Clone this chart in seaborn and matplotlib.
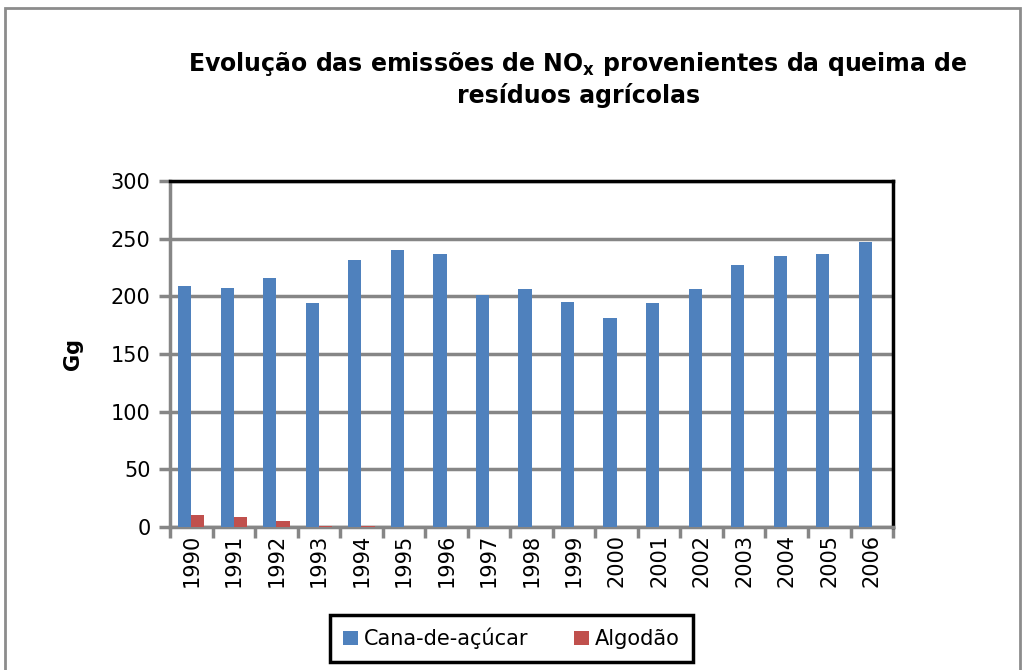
import pandas as pd
import matplotlib
matplotlib.use("Agg")
import matplotlib.pyplot as plt
import seaborn as sns
from matplotlib.patches import Rectangle

anos = [str(a) for a in range(1990, 2007)]
cana = [209, 207.5, 216, 194, 231.5, 240.5, 237, 201, 206, 195, 181.5, 194, 206, 227, 235, 237, 247.5]
algodao = [10, 8.5, 5, 1, 1, 0.3, 0.2, 0.1, 0.1, 0.1, 0, 0, 0, 0, 0, 0, 0]
series = ["Cana-de-açúcar", "Algodão"]
cores = ["#4F81BD", "#C0504D"]

df = pd.DataFrame({
    "Ano": anos * 2,
    "Gg": cana + algodao,
    "Fonte": [series[0]] * len(anos) + [series[1]] * len(anos),
})

sns.set_style("white")
plt.rcParams["font.family"] = ["DejaVu Sans"]
plt.rcParams["text.color"] = "black"
plt.rcParams["xtick.color"] = "black"
plt.rcParams["ytick.color"] = "black"
plt.rcParams["axes.labelcolor"] = "black"

fig = plt.figure(figsize=(10.25, 6.7), dpi=100)
ax = fig.add_axes([0.1659, 0.2134, 0.7054, 0.5164])

sns.barplot(data=df, x="Ano", y="Gg", hue="Fonte", palette=cores, width=0.62,
            saturation=1, linewidth=0, ax=ax, zorder=3)

ax.set_ylim(0, 300)
ax.set_yticks(range(0, 301, 50))
ax.set_xlim(-0.5, len(anos) - 0.5)
ax.yaxis.grid(True, color="#868686", linewidth=2.5, zorder=0)
ax.set_axisbelow(True)

for s in ["left", "bottom"]:
    ax.spines[s].set_color("#868686")
    ax.spines[s].set_linewidth(2.5)
for s in ["top", "right"]:
    ax.spines[s].set_color("black")
    ax.spines[s].set_linewidth(2.5)

ax.tick_params(axis="y", direction="out", length=8, width=2.5, color="#868686",
               labelcolor="black", labelsize=15, left=True, pad=6)
ax.tick_params(axis="x", labelsize=15, labelcolor="black", rotation=90, pad=5)
ax.set_xticks([i - 0.5 for i in range(len(anos) + 1)], minor=True)
ax.tick_params(axis="x", which="major", length=0)
ax.tick_params(axis="x", which="minor", direction="out", length=8, width=2.5,
               color="#868686", bottom=True)
ax.set_xlabel("")
ax.set_ylabel("Gg", fontsize=15, fontweight="bold", labelpad=20)

handles, labels = ax.get_legend_handles_labels()
ax.get_legend().remove()
leg = fig.legend(handles, labels, loc="center", bbox_to_anchor=(0.499, 0.047),
                 ncol=2, fontsize=15, frameon=True, fancybox=False, framealpha=1,
                 handlelength=0.7, handleheight=0.7, columnspacing=2.2,
                 borderpad=0.62, handletextpad=0.3)
leg.get_frame().set_edgecolor("black")
leg.get_frame().set_linewidth(2.5)

fig.text(0.564, 0.905, "Evolução das emissões de NO$_\\mathregular{x}$ provenientes da queima de",
         ha="center", va="center", fontsize=17, fontweight="bold")
fig.text(0.564, 0.857, "resíduos agrícolas", ha="center", va="center",
         fontsize=17, fontweight="bold")

fig.patches.append(Rectangle((0.005, -0.05), 0.99, 1.038, transform=fig.transFigure,
                             fill=False, edgecolor="#8c8c8c", linewidth=2))

fig.savefig("out.png", dpi=100)
